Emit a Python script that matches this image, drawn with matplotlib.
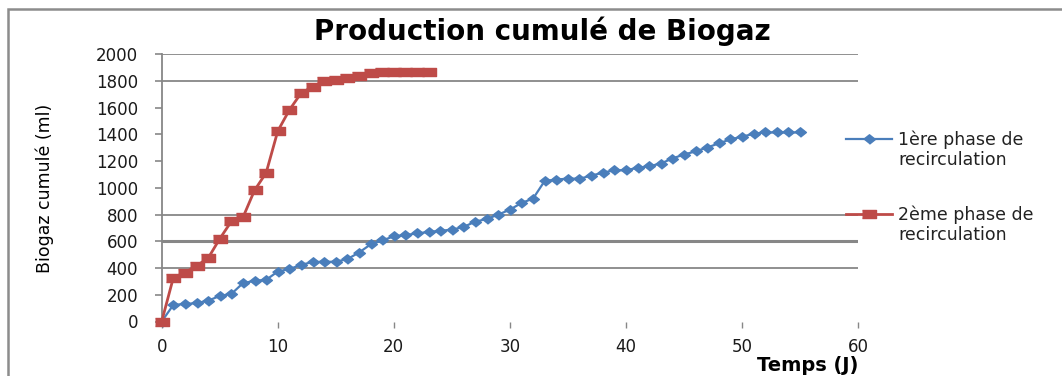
import matplotlib
matplotlib.use("Agg")
import matplotlib.pyplot as plt
from matplotlib.lines import Line2D
from matplotlib.patches import Rectangle

# cumulative biogas (ml) per day (J)
jours_phase1 = list(range(0, 56))
biogaz_phase1 = [0, 124, 131, 137, 156, 191, 206, 287, 304, 312, 374, 392, 424, 445,
                 447, 447, 467, 516, 577, 607, 637, 647, 659, 670, 679, 687, 707, 747,
                 767, 800, 837, 887, 920, 1052, 1062, 1070, 1068, 1092, 1113, 1132, 1132,
                 1150, 1162, 1182, 1220, 1250, 1273, 1302, 1333, 1363, 1383, 1405, 1415,
                 1415, 1415, 1415]

jours_phase2 = list(range(0, 24))
biogaz_phase2 = [0, 327, 366, 417, 474, 619, 749, 779, 982, 1113, 1425, 1583, 1708,
                 1758, 1800, 1808, 1826, 1838, 1860, 1866, 1866, 1866, 1866, 1866]

labels_phase1 = ["1ère phase de", "recirculation"]
labels_phase2 = ["2ème phase de", "recirculation"]

x_ticks = [0, 10, 20, 30, 40, 50, 60]
y_ticks = list(range(0, 2001, 200))
grid_levels = [400, 600, 800, 1800, 2000]

BLUE = "#4A7EBB"
RED = "#BE4B48"
GRID = "#878787"

# excel style markers: flat diamond and wide rectangle
diamond = [(-1.25, 0), (0, 1), (1.25, 0), (0, -1)]
rect = [(-1.7, -1), (1.7, -1), (1.7, 1), (-1.7, 1)]

W, H = 1062, 376
fig = plt.figure(figsize=(W / 100, H / 100), dpi=100)
ax = fig.add_axes([161.7 / W, (H - 321.5) / H, (858 - 161.7) / W, (321.5 - 54.3) / H])

for lvl in grid_levels:
    ax.axhline(lvl, color=GRID, lw=2.2 if lvl == 600 else 1.3, zorder=0)

l1, = ax.plot(jours_phase1, biogaz_phase1, color=BLUE, lw=1.6, marker=diamond,
              markersize=8.5, markerfacecolor=BLUE, markeredgecolor=BLUE, clip_on=False, zorder=3)
l2, = ax.plot(jours_phase2, biogaz_phase2, color=RED, lw=2.0, marker=rect,
              markersize=9.6, markerfacecolor=RED, markeredgecolor=RED, clip_on=False, zorder=4)

ax.set_xlim(0, 60)
ax.set_ylim(0, 2000)
ax.set_xticks(x_ticks)
ax.set_yticks(y_ticks)

for s in ["top", "right", "bottom"]:
    ax.spines[s].set_visible(False)
ax.spines["left"].set_color(GRID)
ax.spines["left"].set_linewidth(1.3)

ax.tick_params(axis="y", direction="out", length=5, width=1.2, color=GRID,
               pad=12, labelsize=12, labelcolor="#1a1a1a")
ax.tick_params(axis="x", direction="out", length=4, width=1.0, color=GRID,
               pad=8, labelsize=12, labelcolor="#1a1a1a")

ax.set_title("Production cumulé de Biogaz", fontsize=20, fontweight="bold", pad=10, x=0.546)
ax.set_ylabel("Biogaz cumulé (ml)", fontsize=12.5, labelpad=30)
ax.set_xlabel("Temps (J)", fontsize=14, fontweight="bold", loc="right", labelpad=0)

# legend: one block per phase, second row is just the end of the label
blank = Line2D([], [], color="none")
leg1 = fig.legend([l1, blank], labels_phase1, loc="upper left",
                  bbox_to_anchor=(846 / W, 1 - 131 / H), frameon=False,
                  fontsize=12.5, handlelength=2.65, handletextpad=0.35,
                  labelspacing=0.1, borderpad=0, borderaxespad=0, labelcolor="#222222")
leg2 = fig.legend([l2, blank], labels_phase2, loc="upper left",
                  bbox_to_anchor=(846 / W, 1 - 206 / H), frameon=False,
                  fontsize=12.5, handlelength=2.65, handletextpad=0.35,
                  labelspacing=0.1, borderpad=0, borderaxespad=0, labelcolor="#222222")

# chart area border
fig.add_artist(Rectangle((8 / W, -0.2), 1.2, 1.2 - 9 / H, transform=fig.transFigure,
                         fill=False, edgecolor="#8c8c8c", lw=1.8))

fig.savefig("out.png", dpi=100)
